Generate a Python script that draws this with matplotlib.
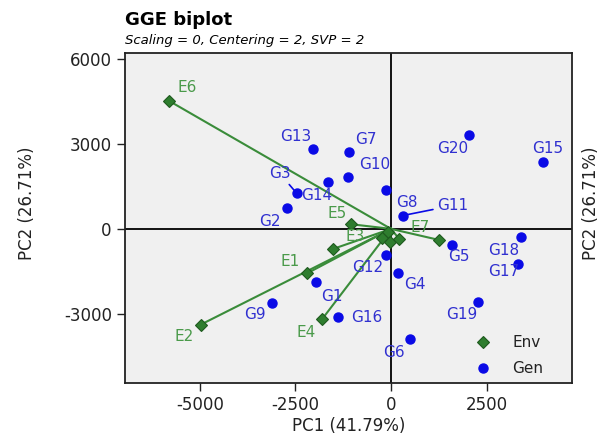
import numpy as np
import matplotlib
matplotlib.use('Agg')
import matplotlib.pyplot as plt

# environment scores (PC1, PC2)
env_names = ['E1', 'E2', 'E3', 'E4', 'E5', 'E6', 'E7']
env_x = [-2190, -4980, -1510, -1805, -1045, -5810, 1255]
env_y = [-1565, -3380, -705, -3190, 165, 4520, -390]
# environments near the origin whose labels are not shown
env_x_unl = [-70, -245, -25, 215]
env_y_unl = [-95, -330, -470, -355]

# genotype scores (PC1, PC2)
gen_names = ['G1', 'G2', 'G3', 'G4', 'G5', 'G6', 'G7', 'G8', 'G9', 'G10',
             'G11', 'G12', 'G13', 'G14', 'G15', 'G16', 'G17', 'G18', 'G19', 'G20']
gen_x = [-1970, -2725, -2470, 175, 1590, 495, -1100, -140, -3105, -1120,
         305, -130, -2035, -1640, 3970, -1380, 3335, 3405, 2285, 2050]
gen_y = [-1880, 750, 1260, -1540, -565, -3895, 2720, 1375, -2610, 1835,
         470, -920, 2815, 1670, 2365, -3115, -1235, -270, -2565, 3330]

# label offsets in pixels (dx, dy), up is positive
env_off = {'E1': (-17, 12), 'E2': (-17, -12), 'E3': (22, 12), 'E4': (-16, -13),
           'E5': (-14, 11), 'E6': (18, 13), 'E7': (-19, 12)}
gen_off = {'G1': (16, -14), 'G2': (-17, -14), 'G3': (-17, 20), 'G4': (17, -12),
           'G5': (7, -12), 'G6': (-16, -13), 'G7': (17, 12), 'G8': (21, -13),
           'G9': (-17, -12), 'G10': (26, 12), 'G11': (50, 10), 'G12': (-18, -13),
           'G13': (-17, 13), 'G14': (-12, -14), 'G15': (5, 13), 'G16': (28, 0),
           'G17': (-15, -8), 'G18': (-17, -14), 'G19': (-17, -13), 'G20': (-17, -14)}
seg_labels = ['G3', 'G11']

env_col = '#2e7d2e'
env_txt = '#4a9a4a'
gen_col = '#0a0ae6'
gen_txt = '#3030d0'
plt.rcParams['font.family'] = 'DejaVu Sans'
plt.rcParams['axes.unicode_minus'] = False

fig = plt.figure(figsize=(6.01, 4.34), dpi=100)
ax = fig.add_axes([0.208, 0.1175, 0.744, 0.7605])
ax.set_facecolor('#f0f0f0')

ax.axhline(0, color='black', lw=1.3, zorder=1)
ax.axvline(0, color='black', lw=1.3, zorder=1)

all_ex = env_x + env_x_unl
all_ey = env_y + env_y_unl
for x, y in zip(all_ex, all_ey):
    ax.plot([0, x], [0, y], color='#3a8c3a', lw=1.5, zorder=2)
ax.plot(all_ex, all_ey, linestyle='None', marker='D', ms=6, mfc=env_col,
        mec='#1e5a1e', mew=0.8, zorder=4, label='Env')
ax.plot(gen_x, gen_y, linestyle='None', marker='o', ms=6.5, mfc=gen_col,
        mec=gen_col, zorder=4, label='Gen')

for i, n in enumerate(env_names):
    dx, dy = env_off[n]
    ax.annotate(n, (env_x[i], env_y[i]), xytext=(dx, dy), textcoords='offset pixels',
                ha='center', va='center', color=env_txt, fontsize=11, zorder=5)

for i, n in enumerate(gen_names):
    dx, dy = gen_off[n]
    props = None
    if n in seg_labels:
        props = dict(arrowstyle='-', color=gen_col, lw=1.2, shrinkA=1, shrinkB=3)
    ax.annotate(n, (gen_x[i], gen_y[i]), xytext=(dx, dy), textcoords='offset pixels',
                ha='center', va='center', color=gen_txt, fontsize=11, zorder=5,
                arrowprops=props)

ax.set_xlim(-6960, 4740)
ax.set_ylim(-5440, 6210)
ax.set_xticks([-5000, -2500, 0, 2500])
ax.set_yticks([-3000, 0, 3000, 6000])
ax.tick_params(length=6, width=1, colors='#222222', labelsize=12, labelcolor='#222222')
for s in ax.spines.values():
    s.set_linewidth(1.3)
    s.set_color('#222222')

ax.set_xlabel('PC1 (41.79%)', fontsize=12, color='#222222', labelpad=2)
fig.text(0.045, 0.531, 'PC2 (26.71%)', rotation=90, ha='center', va='center',
         fontsize=12, color='#222222')
fig.text(0.984, 0.531, 'PC2 (26.71%)', rotation=90, ha='center', va='center',
         fontsize=12, color='#222222')

fig.text(0.208, 0.953, 'GGE biplot', fontsize=13, fontweight='bold', ha='left', va='center')
fig.text(0.208, 0.907, 'Scaling = 0, Centering = 2, SVP = 2', fontsize=9.5,
         style='italic', ha='left', va='center')

ax.legend(loc='lower left', bbox_to_anchor=(0.767, 0.021), frameon=False, fontsize=11,
          handletextpad=0.9, labelspacing=0.7, borderpad=0, borderaxespad=0,
          labelcolor='#222222')

plt.savefig('out.png', dpi=100)
